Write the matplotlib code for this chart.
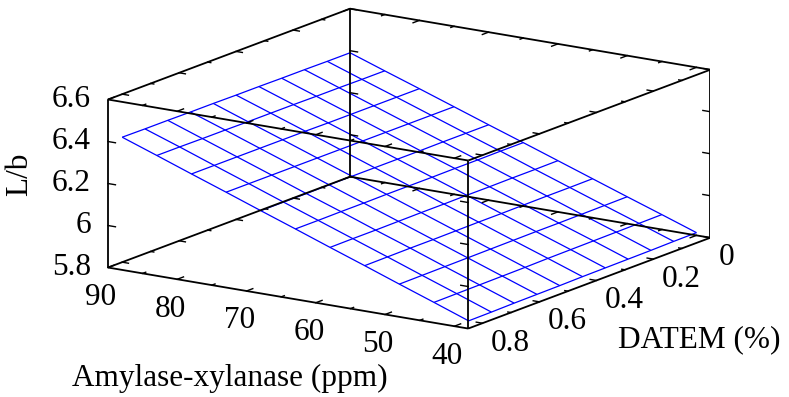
import matplotlib
matplotlib.use('Agg')
import matplotlib.pyplot as plt
from matplotlib.transforms import IdentityTransform
from mpl_toolkits.mplot3d import proj3d
import numpy as np

plt.rcParams['font.family'] = ['Liberation Serif', 'DejaVu Serif']

# data
amylase = [40, 45, 50, 55, 60, 65, 70, 75, 80, 85, 90]
datem = [0, 0.08, 0.16, 0.24, 0.32, 0.40, 0.48, 0.56, 0.64, 0.72, 0.80]
# L/b, one row per amylase level, columns follow datem
lb = [
    [5.813, 5.812, 5.810, 5.809, 5.808, 5.807, 5.805, 5.804, 5.803, 5.801, 5.800],
    [5.871, 5.870, 5.869, 5.868, 5.867, 5.866, 5.864, 5.863, 5.862, 5.861, 5.860],
    [5.928, 5.927, 5.926, 5.925, 5.925, 5.924, 5.923, 5.922, 5.921, 5.920, 5.919],
    [5.986, 5.985, 5.985, 5.984, 5.983, 5.983, 5.982, 5.981, 5.981, 5.980, 5.979],
    [6.044, 6.043, 6.043, 6.042, 6.042, 6.041, 6.041, 6.040, 6.039, 6.039, 6.038],
    [6.102, 6.102, 6.101, 6.101, 6.100, 6.100, 6.100, 6.099, 6.099, 6.098, 6.098],
    [6.159, 6.159, 6.159, 6.158, 6.158, 6.158, 6.158, 6.158, 6.157, 6.157, 6.157],
    [6.217, 6.217, 6.217, 6.217, 6.217, 6.217, 6.217, 6.217, 6.217, 6.217, 6.217],
    [6.275, 6.275, 6.275, 6.275, 6.275, 6.276, 6.276, 6.276, 6.276, 6.276, 6.276],
    [6.332, 6.332, 6.333, 6.333, 6.334, 6.334, 6.334, 6.335, 6.335, 6.336, 6.336],
    [6.390, 6.390, 6.391, 6.391, 6.392, 6.392, 6.393, 6.393, 6.394, 6.394, 6.395],
]

am_ticks = [40, 50, 60, 70, 80, 90]
am_minor = [45, 55, 65, 75, 85]
d_ticks = [0, 0.2, 0.4, 0.6, 0.8]
d_minor = [0.1, 0.3, 0.5, 0.7]
d_labels = ['0', '0.2', '0.4', '0.6', '0.8']
z_ticks = [6.0, 6.2, 6.4]
z_label_vals = [5.8, 6.0, 6.2, 6.4, 6.6]
z_labels = ['5.8', '6', '6.2', '6.4', '6.6']

am_lim = (38, 90)
d_lim = (0, 0.85)
z_lim = (5.8, 6.6)

FS = 22.5
fig = plt.figure(figsize=(7.89, 3.97), dpi=100)
ax = fig.add_axes([0.1155, -0.2258, 0.7849, 1.5600], projection='3d')
ax.set_proj_type('ortho')
ax.view_init(elev=14.6, azim=123.9)
ax.set_box_aspect((1, 1, 0.4))
ax.set_xlim(*am_lim)
ax.set_ylim(*d_lim)
ax.set_zlim(*z_lim)
ax.set_axis_off()
ax.computed_zorder = False

# surface
D, A = np.meshgrid(datem, amylase)
ax.plot_wireframe(A, D, np.array(lb), color='#0000ff', lw=0.9, zorder=1)

kw = dict(color='black', lw=1.3, zorder=3, solid_capstyle='butt')
tk = dict(color='black', lw=1.0, zorder=3)

# box
for x in am_lim:
    for y in d_lim:
        ax.plot([x, x], [y, y], z_lim, **kw)
for x in am_lim:
    for z in z_lim:
        ax.plot([x, x], d_lim, [z, z], **kw)
for y in d_lim:
    for z in z_lim:
        ax.plot(am_lim, [y, y], [z, z], **kw)

# tick marks on the horizontal edges
td, ta = 0.022, 0.9
for z in z_lim:
    for a in am_ticks + am_minor:
        f = 1.0 if a in am_ticks else 0.5
        ax.plot([a, a], [d_lim[1], d_lim[1] - td * f], [z, z], **tk)
        ax.plot([a, a], [d_lim[0], d_lim[0] + td * f], [z, z], **tk)
    for d in d_ticks + d_minor:
        f = 1.0 if d in d_ticks else 0.5
        ax.plot([am_lim[1], am_lim[1] - ta * f], [d, d], [z, z], **tk)
        ax.plot([am_lim[0], am_lim[0] + ta * f], [d, d], [z, z], **tk)

# tick marks on the vertical edges
for z in z_ticks:
    for d in d_lim:
        ax.plot([am_lim[1], am_lim[1] - ta * 1.2], [d, d], [z, z], **tk)
        ax.plot([am_lim[0], am_lim[0] + ta * 1.2], [d, d], [z, z], **tk)

# tick labels: project the 3D tick position, then place a plain 2D text
fig.canvas.draw()
M = ax.get_proj()


def label(x, y, z, s, dx, dy, ha):
    px, py, _ = proj3d.proj_transform(x, y, z, M)
    X, Y = ax.transData.transform((px, py))
    fig.text(X + dx, Y + dy, s, fontsize=FS, ha=ha, va='center',
             transform=IdentityTransform())


for a in am_ticks:
    label(a, d_lim[1], z_lim[0], str(a), -7, -30, 'center')
for d, s in zip(d_ticks, d_labels):
    label(am_lim[0], d, z_lim[0], s, 8, -20, 'left')
for z, s in zip(z_label_vals, z_labels):
    label(am_lim[1], d_lim[1], z, s, -17, 0, 'right')

# axis titles
fig.text(20 / 789, 1 - 174 / 397, 'L/b', fontsize=FS, rotation=90, ha='center', va='center')
fig.text(230 / 789, 1 - 378 / 397, 'Amylase-xylanase (ppm)', fontsize=FS, ha='center', va='center')
fig.text(618 / 789, 1 - 340 / 397, 'DATEM (%)', fontsize=FS, ha='left', va='center')

fig.savefig('out.png', dpi=100)
